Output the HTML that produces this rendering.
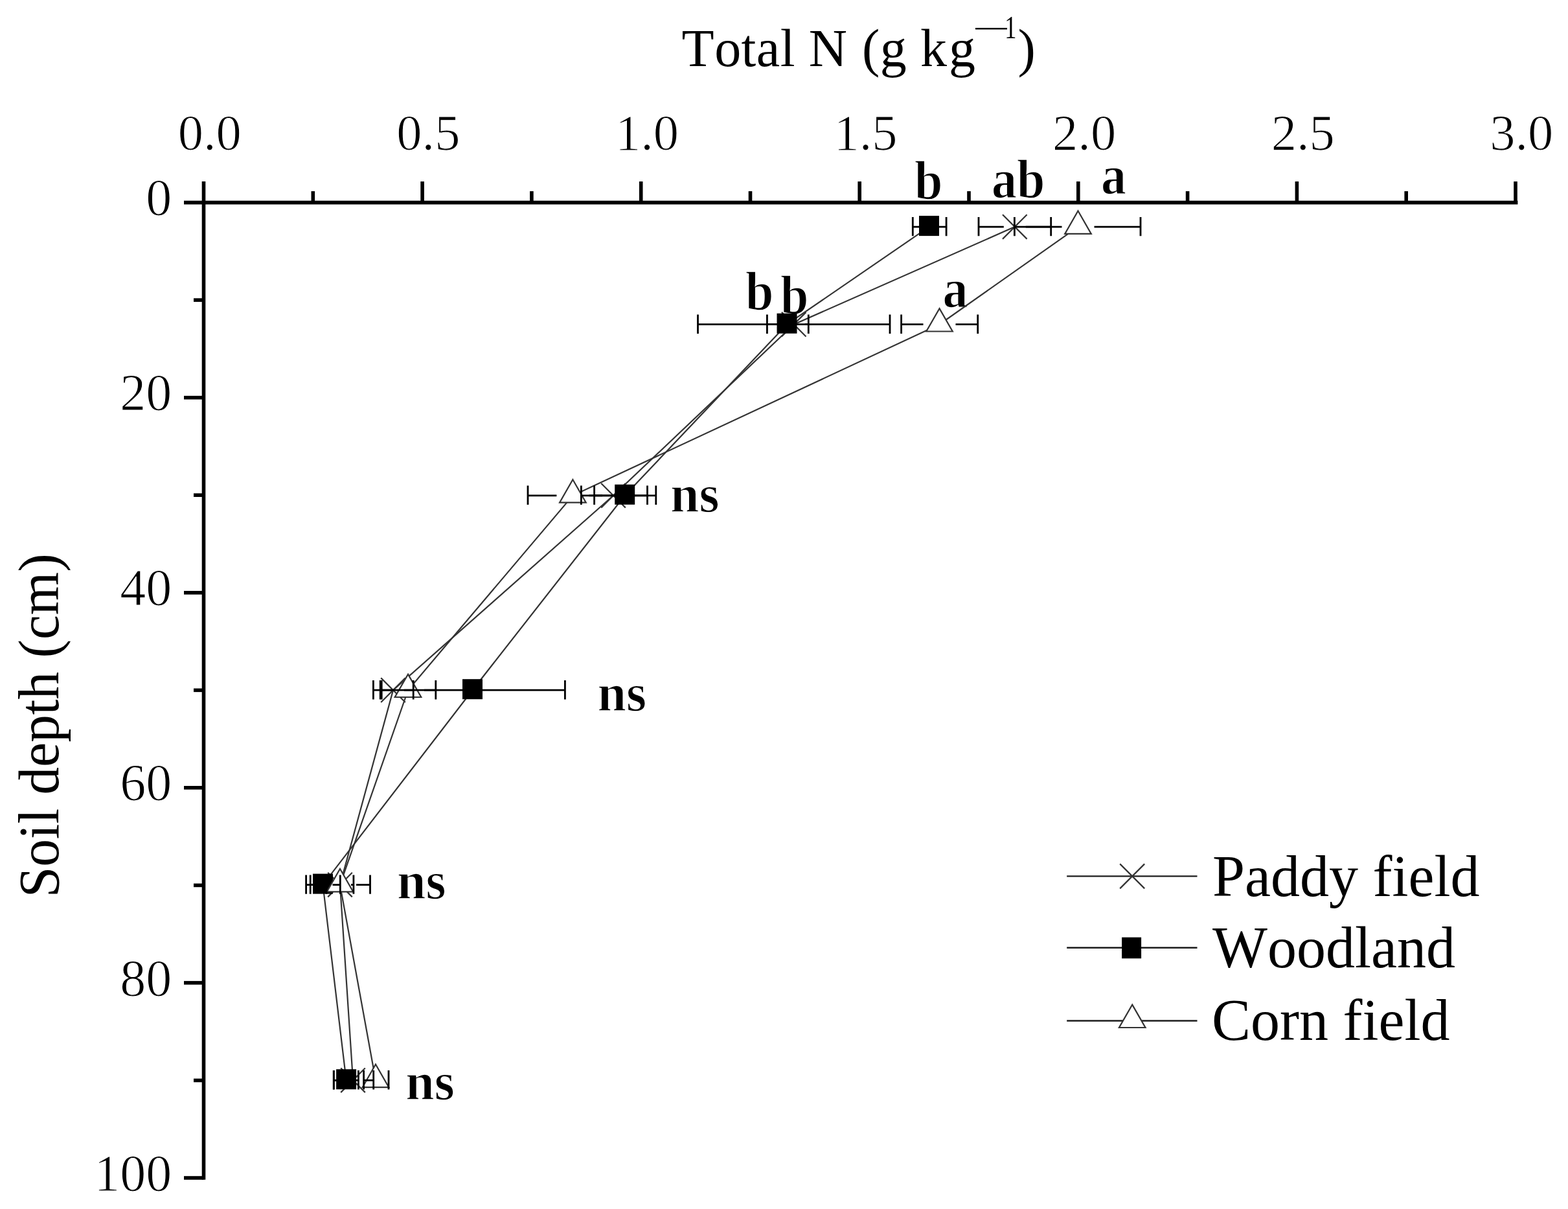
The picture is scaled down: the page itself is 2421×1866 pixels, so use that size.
<!DOCTYPE html>
<html lang="en"><head><meta charset="utf-8"><title>Total N by soil depth</title>
<style>
html,body{margin:0;padding:0;background:#fff;}
body{width:2421px;height:1866px;overflow:hidden;}
svg{display:block;}
text{font-family:"Liberation Serif",serif;fill:#000;font-kerning:none;}
.tick{font-size:80px;stroke:#fff;stroke-width:1.1px;}
.title{font-size:82px;letter-spacing:0.45px;}
.ytitle{font-size:89px;}
.sig{font-size:80px;font-weight:bold;stroke:#fff;stroke-width:1.3px;}
.leg{font-size:90px;}
.ax{stroke:#000;stroke-width:5.6;fill:none;stroke-linecap:butt;}
.ln{stroke:#333;stroke-width:2.2;fill:none;}
.eb{stroke:#000;stroke-width:2.8;fill:none;}
.mx{stroke:#333;stroke-width:2.2;fill:none;}
.mt{stroke:#333;stroke-width:2.2;fill:#fff;stroke-linejoin:miter;}
.ms{fill:#000;stroke:none;}
</style></head><body>
<svg width="2421" height="1866" viewBox="0 0 2421 1866">
<rect x="0" y="0" width="2421" height="1866" fill="#fff"/>
<text class="title" x="1052.6" y="102.3">Total N <tspan dx="1.4">(g k</tspan><tspan dx="2.6">g</tspan><tspan x="1501" y="60.2" font-size="47" textLength="60.5" lengthAdjust="spacingAndGlyphs">−</tspan><tspan x="1551.3" y="58.8" font-size="50" textLength="18.5" lengthAdjust="spacingAndGlyphs">1</tspan><tspan x="1571.5" y="102.3">)</tspan></text>
<text class="ytitle" transform="translate(90.3,1385.3) rotate(-90) scale(0.959,1)">Soil depth (cm)</text>
<g class="ax">
<path d="M284.0 312.6H2343.4"/>
<path d="M314.5 280.1V1820.8"/>
<path d="M483.3 295.1V312.6"/>
<path d="M652.1 280.1V312.6"/>
<path d="M820.9 295.1V312.6"/>
<path d="M989.7 280.1V312.6"/>
<path d="M1158.5 295.1V312.6"/>
<path d="M1327.2 280.1V312.6"/>
<path d="M1496.0 295.1V312.6"/>
<path d="M1664.8 280.1V312.6"/>
<path d="M1833.6 295.1V312.6"/>
<path d="M2002.4 280.1V312.6"/>
<path d="M2171.2 295.1V312.6"/>
<path d="M2340.0 280.1V312.6"/>
<path d="M299.0 463.1H314.5"/>
<path d="M284.0 613.7H314.5"/>
<path d="M299.0 764.2H314.5"/>
<path d="M284.0 914.8H314.5"/>
<path d="M299.0 1065.3H314.5"/>
<path d="M284.0 1215.8H314.5"/>
<path d="M299.0 1366.4H314.5"/>
<path d="M284.0 1516.9H314.5"/>
<path d="M299.0 1667.5H314.5"/>
<path d="M284.0 1818.0H314.5"/>
</g>
<g class="tick">
<text x="323.8" y="230.6" text-anchor="middle" font-size="78.5">0.0</text>
<text x="661.4" y="230.6" text-anchor="middle" font-size="78.5">0.5</text>
<text x="999.0" y="230.6" text-anchor="middle" font-size="78.5">1.0</text>
<text x="1336.5" y="230.6" text-anchor="middle" font-size="78.5">1.5</text>
<text x="1674.1" y="230.6" text-anchor="middle" font-size="78.5">2.0</text>
<text x="2011.7" y="230.6" text-anchor="middle" font-size="78.5">2.5</text>
<text x="2349.3" y="230.6" text-anchor="middle" font-size="78.5">3.0</text>
<text x="265.3" y="332.2" text-anchor="end">0</text>
<text x="265.3" y="633.3" text-anchor="end">20</text>
<text x="265.3" y="934.4" text-anchor="end">40</text>
<text x="265.3" y="1235.4" text-anchor="end">60</text>
<text x="265.3" y="1536.5" text-anchor="end">80</text>
<text x="265.3" y="1837.6" text-anchor="end">100</text>
</g>
<g class="sig">
<text transform="translate(1412,306.5) scale(0.975,1.05)">b</text>
<text transform="translate(1531,305) scale(0.975,1.05)">ab</text>
<text transform="translate(1700,298.5) scale(0.975,1.05)">a</text>
<text transform="translate(1151,478) scale(0.975,1.05)">b</text>
<text transform="translate(1205,484) scale(0.975,1.05)">b</text>
<text transform="translate(1455.5,473.5) scale(0.975,1.05)">a</text>
<text transform="translate(1034.9,789.5) scale(1,1.035)">ns</text>
<text transform="translate(922.5,1097.0) scale(1,1.035)">ns</text>
<text transform="translate(612.9,1386.8) scale(1,1.035)">ns</text>
<text transform="translate(626.3,1697.2) scale(1,1.035)">ns</text>
</g>
<g>
<path class="ln" d="M1566.8 350.1 L1225.7 500.7 L947.0 764.8 L607.0 1065.2 L525.0 1365.6 L545.0 1667.3"/>
<path class="mx" d="M1548.0 331.3L1585.6 368.9M1548.0 368.9L1585.6 331.3"/>
<path class="mx" d="M1206.9 481.9L1244.5 519.5M1206.9 519.5L1244.5 481.9"/>
<path class="mx" d="M928.2 746.0L965.8 783.6M928.2 783.6L965.8 746.0"/>
<path class="mx" d="M588.2 1046.4L625.8 1084.0M588.2 1084.0L625.8 1046.4"/>
<path class="mx" d="M506.2 1346.8L543.8 1384.4M506.2 1384.4L543.8 1346.8"/>
<path class="mx" d="M526.2 1648.5L563.8 1686.1M526.2 1686.1L563.8 1648.5"/>
<path class="ln" d="M1434.5 350.1 L1215.0 500.7 L964.7 764.8 L729.5 1065.2 L498.5 1365.6 L534.6 1667.3"/>
<rect class="ms" x="1419.0" y="333.1" width="31.0" height="31.0"/>
<rect class="ms" x="1199.5" y="483.7" width="31.0" height="31.0"/>
<rect class="ms" x="949.2" y="747.8" width="31.0" height="31.0"/>
<rect class="ms" x="714.0" y="1048.2" width="31.0" height="31.0"/>
<rect class="ms" x="483.0" y="1348.6" width="31.0" height="31.0"/>
<rect class="ms" x="519.1" y="1650.3" width="31.0" height="31.0"/>
<path class="ln" d="M1664.5 350.1 L1450.5 500.7 L884.4 764.8 L630.0 1065.2 L525.0 1365.6 L580.0 1667.3"/>
<path class="mt" d="M1664.5 325.5L1684.8 360.9H1644.2Z"/>
<path class="mt" d="M1450.5 476.1L1470.8 511.5H1430.2Z"/>
<path class="mt" d="M884.4 740.2L904.7 775.6H864.1Z"/>
<path class="mt" d="M630.0 1040.6L650.3 1076.0H609.7Z"/>
<path class="mt" d="M525.0 1341.0L545.3 1376.4H504.7Z"/>
<path class="mt" d="M580.0 1642.7L600.3 1678.1H559.7Z"/>
</g>
<g>
<path class="eb" d="M1511.0 350.1H1549.8M1583.8 350.1H1622.7M1511.0 334.9V364.3M1622.7 334.9V364.3"/>
<path class="eb" d="M1409.3 350.1H1419.5M1449.5 350.1H1461.1M1409.3 334.9V364.3M1461.1 334.9V364.3"/>
<path class="eb" d="M1566.4 350.1H1639.5M1689.5 350.1H1761.0M1566.4 334.9V364.3M1761.0 334.9V364.3"/>
<path class="eb" d="M1077.5 500.7H1208.7M1242.7 500.7H1374.0M1077.5 485.5V514.9M1374.0 485.5V514.9"/>
<path class="eb" d="M1184.4 500.7H1200.0M1230.0 500.7H1248.3M1184.4 485.5V514.9M1248.3 485.5V514.9"/>
<path class="eb" d="M1391.6 500.7H1425.5M1475.5 500.7H1509.7M1391.6 485.5V514.9M1509.7 485.5V514.9"/>
<path class="eb" d="M897.4 764.8H930.0M964.0 764.8H999.5M897.4 749.6V779.0M999.5 749.6V779.0"/>
<path class="eb" d="M917.6 764.8H949.7M979.7 764.8H1012.8M917.6 749.6V779.0M1012.8 749.6V779.0"/>
<path class="eb" d="M815.0 764.8H859.4M909.4 764.8H953.8M815.0 749.6V779.0M953.8 749.6V779.0"/>
<path class="eb" d="M576.4 1065.2H590.0M624.0 1065.2H638.2M576.4 1050.0V1079.4M638.2 1050.0V1079.4"/>
<path class="eb" d="M589.2 1065.2H714.5M744.5 1065.2H872.4M589.2 1050.0V1079.4M872.4 1050.0V1079.4"/>
<path class="eb" d="M587.2 1065.2H605.0M655.0 1065.2H672.8M587.2 1050.0V1079.4M672.8 1050.0V1079.4"/>
<path class="eb" d="M504.0 1365.6H508.0M542.0 1365.6H545.9M504.0 1350.4V1379.8M545.9 1350.4V1379.8"/>
<path class="eb" d="M472.6 1365.6H483.5M513.5 1365.6H525.3M472.6 1350.4V1379.8M525.3 1350.4V1379.8"/>
<path class="eb" d="M479.2 1365.6H500.0M550.0 1365.6H571.5M479.2 1350.4V1379.8M571.5 1350.4V1379.8"/>
<path class="eb" d="M515.3 1667.3H528.0M562.0 1667.3H576.7M515.3 1652.1V1681.5M576.7 1652.1V1681.5"/>
<path class="eb" d="M515.3 1667.3H519.6M549.6 1667.3H553.4M515.3 1652.1V1681.5M553.4 1652.1V1681.5"/>
<path class="eb" d="M561.6 1652.1V1681.5M600.0 1652.1V1681.5"/>
</g>
<g>
<path class="ln" style="stroke:#1c1c1c;stroke-width:2.4" d="M1647.2 1352.4H1848.5"/>
<path class="ln" style="stroke:#1c1c1c;stroke-width:2.4" d="M1647.2 1462.7H1848.5"/>
<path class="ln" style="stroke:#1c1c1c;stroke-width:2.4" d="M1647.2 1575.5H1848.5"/>
<path class="mx" d="M1729.2 1333.4L1767.2 1371.4M1729.2 1371.4L1767.2 1333.4"/>
<rect class="ms" x="1732.1" y="1446.7" width="30.0" height="32.6"/>
<path class="mt" d="M1748.2 1550.6L1768.5 1586.0H1727.9Z"/>
</g>
<g class="leg">
<text x="1872" y="1382.5">Paddy field</text>
<text x="1872" y="1493">Woodland</text>
<text x="1871" y="1605">Corn field</text>
</g>
</svg>
</body></html>
